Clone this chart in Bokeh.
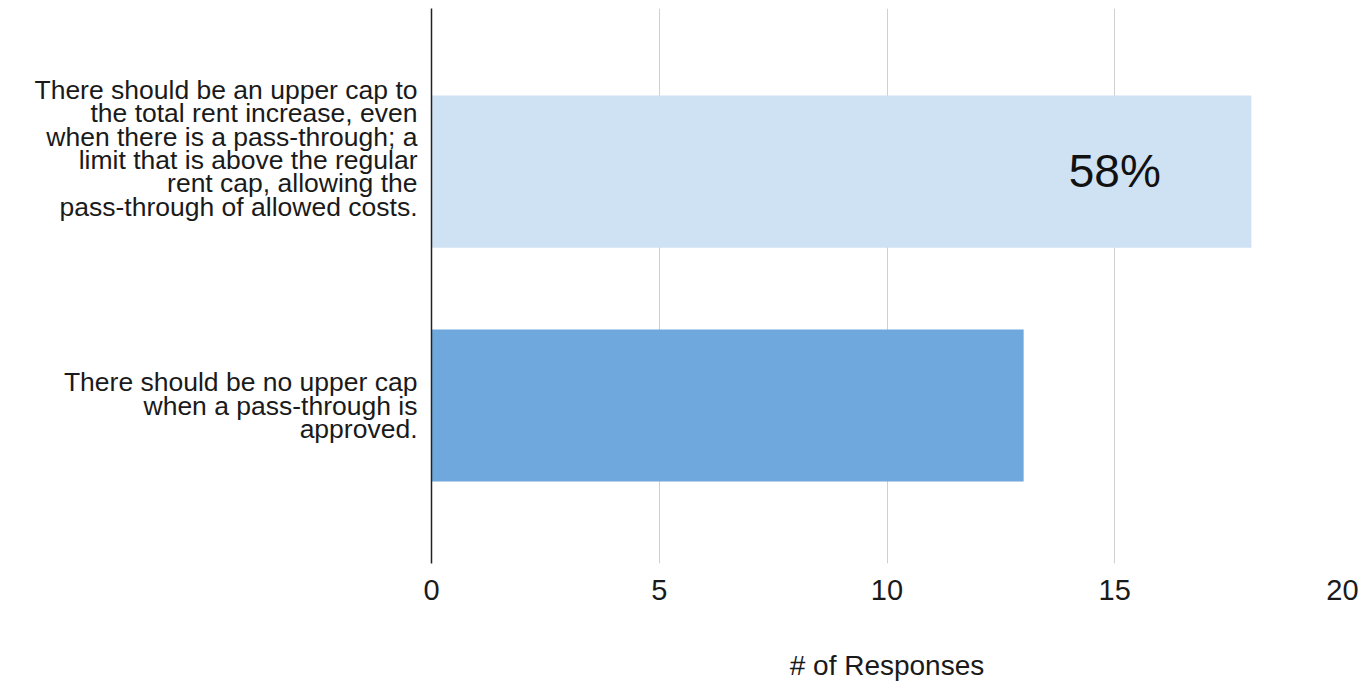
from bokeh.plotting import figure
from bokeh.models import ColumnDataSource, Range1d, FixedTicker, Label
from bokeh.embed import file_html
from bokeh.resources import INLINE

# ---- data ----
categories = [
    "There should be an upper cap to\nthe total rent increase, even\nwhen there is a pass-through; a\nlimit that is above the regular\nrent cap, allowing the\npass-through of allowed costs.",
    "There should be no upper cap\nwhen a pass-through is\napproved.",
]
responses = [18, 13]
bar_colors = ["#cfe2f3", "#6fa8dc"]
x_ticks = [0, 5, 10, 15, 20]
x_title = "# of Responses"

positions = [1, 0]  # top to bottom
total = sum(responses)
pct_label = f"{round(responses[0] / total * 100)}%"

# the long label sits a little above its bar in the original
label_pad = ["\n\n", ""]

FONT = "Liberation Sans"

p = figure(width=1372, height=688, output_backend="svg", toolbar_location=None,
           x_range=Range1d(0, 20), y_range=Range1d(-0.675, 1.697),
           min_border_left=431, min_border_top=8, min_border_right=30, min_border_bottom=125)
p.outline_line_color = None

src = ColumnDataSource(dict(y=positions, right=responses, color=bar_colors))
p.hbar(y="y", left=0, right="right", height=0.65, fill_color="color", line_color=None, source=src)

# x axis
p.xaxis.ticker = FixedTicker(ticks=x_ticks)
p.xaxis.axis_line_color = None
p.xaxis.major_tick_line_color = None
p.xaxis.minor_tick_line_color = None
p.xaxis.major_label_text_font = FONT
p.xaxis.major_label_text_font_size = "29px"
p.xaxis.major_label_text_color = "#1a1a1a"
p.xaxis.major_label_standoff = 10
p.xaxis.axis_label = x_title
p.xaxis.axis_label_text_font = FONT
p.xaxis.axis_label_text_font_size = "28px"
p.xaxis.axis_label_text_font_style = "normal"
p.xaxis.axis_label_text_color = "#1a1a1a"
p.xaxis.axis_label_standoff = 47

# y axis
p.yaxis.ticker = FixedTicker(ticks=positions)
p.yaxis.major_label_overrides = {pos: cat + pad for pos, cat, pad in zip(positions, categories, label_pad)}
p.yaxis.axis_line_color = "#222222"
p.yaxis.axis_line_width = 1.5
p.yaxis.major_tick_line_color = None
p.yaxis.minor_tick_line_color = None
p.yaxis.major_label_text_font = FONT
p.yaxis.major_label_text_font_size = "26.5px"
p.yaxis.major_label_text_color = "#1a1a1a"
p.yaxis.major_label_text_line_height = 0.777
p.yaxis.major_label_standoff = 8

p.xgrid.ticker = FixedTicker(ticks=x_ticks)
p.xgrid.grid_line_color = "#d0d0d0"
p.xgrid.grid_line_width = 1
p.ygrid.grid_line_color = None

p.add_layout(Label(x=15, y=positions[0], text=pct_label, text_align="center",
                   text_baseline="middle", text_font=FONT, text_font_size="46px",
                   text_color="#111111", y_offset=1))

open("out.html", "w").write(file_html(p, INLINE))
